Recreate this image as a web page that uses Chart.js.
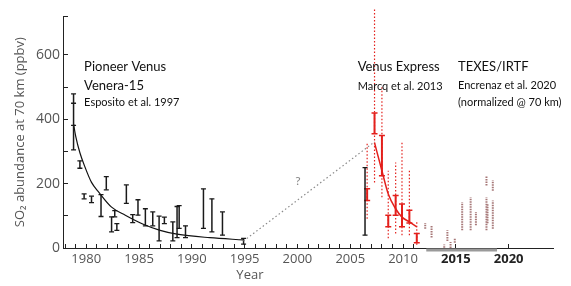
<!DOCTYPE html>
<html>
<head>
<meta charset="utf-8">
<script src="https://cdn.jsdelivr.net/npm/chart.js@4"></script>
<style>
  html, body { margin: 0; padding: 0; background: #fff; }
  #caixa { width: 571px; height: 286px; }
</style>
</head>
<body>
<div id="caixa"><canvas id="grafico"></canvas></div>
<script>
// Pioneer Venus / Venera-15 (Esposito et al. 1997)
const pvAnos = [1978.8, 1979.4, 1979.8, 1980.5, 1981.4, 1981.9, 1982.4, 1982.7, 1982.9, 1983.8, 1984.4, 1984.9,
                1985.6, 1986.3, 1986.9, 1987.4, 1988.2, 1988.6, 1988.8, 1989.4, 1991.1, 1991.9, 1992.9, 1994.9];
const pvMin = [305, 248, 153, 141, 98, 181, 50, 97, 55, 139, 79, 102, 69, 69, 22, 76, 22, 32, 61, 32, 61, 50, 40, 12];
const pvMax = [479, 271, 168, 161, 166, 222, 97, 116, 76, 196, 104, 150, 122, 112, 99, 96, 81, 129, 132, 69, 184, 153, 112, 30];
// pontas extra do primeiro ponto
const pvExtraAnos = [1978.8, 1978.8];
const pvExtra = [381, 450];

// curva ajustada (preta)
const pvCurvaAnos = [1978.8, 1979.0, 1979.4, 1979.9, 1980.5, 1981.2, 1982.4, 1983.7, 1985.4, 1987.0, 1988.6, 1991.7, 1994.9];
const pvCurva = [385, 348, 296, 250, 204, 173, 127, 102, 74, 55, 43, 32, 25];

// barra preta isolada em 2006
const outroAnos = [2006.4];
const outroMin = [40];
const outroMax = [250];

// Venus Express (Marcq et al. 2013)
const vexAnos = [2006.6, 2007.3, 2008.0, 2008.6, 2009.3, 2009.9, 2010.6, 2011.3];
const vexMin = [148, 355, 225, 66, 102, 66, 78, 16];
const vexMax = [184, 420, 350, 102, 163, 137, 117, 45];
const vexPontMin = [91, 204, 158, 30, 45, 40, 40, 10];
const vexPontMax = [324, 745, 501, 240, 266, 327, 240, 86];
const vexCurvaAnos = [2007.3, 2008.0, 2008.6, 2009.3, 2009.9, 2010.6, 2011.3];
const vexCurva = [327, 240, 168, 122, 96, 81, 66];

// TEXES/IRTF (Encrenaz et al. 2020)
const texAnos = [2012.1, 2012.7, 2013.9, 2014.2, 2014.5, 2014.9, 2015.6, 2016.4, 2016.9, 2017.9, 2017.9, 2018.0, 2018.5, 2018.5];
const texMin = [60, 33, 1, 22, 0, 16, 55, 55, 71, 194, 55, 77, 178, 60];
const texMax = [78, 71, 11, 55, 19, 30, 142, 158, 112, 222, 158, 138, 211, 148];

// ligação pontilhada 1995 -> 2007
const ligacaoAnos = [1994.9, 2007.3];
const ligacao = [22, 330];

// faixa cinza do eixo TEXES
const faixaAnos = [2012.2, 2018.9];

// ticks
const ticksAnos = [];
for (let a = 1978; a <= 2011; a++) ticksAnos.push(a);
ticksAnos.push(2015, 2020);
const rotulosX = [1980, 1985, 1990, 1995, 2000, 2005, 2010, 2015, 2020];
const rotulosY = [0, 200, 400, 600];

function barras(anos, min, max) {
    const pts = [];
    anos.forEach((a, i) => {
        pts.push({ x: a, y: min[i] }, { x: a, y: max[i] }, { x: a, y: null });
    });
    return pts;
}
function pontas(anos, min, max) {
    const pts = [];
    anos.forEach((a, i) => {
        pts.push({ x: a, y: min[i] }, { x: a, y: max[i] });
    });
    return pts;
}
function serie(anos, valores) {
    return anos.map((a, i) => ({ x: a, y: valores[i] }));
}

const vermelho = '#e3201c';

// textos das fontes
const textos = [
    { t: 'Pioneer Venus', ano: 1979.8, v: 563, f: '13px Lato' },
    { t: 'Venera-15', ano: 1979.8, v: 505, f: '13px Lato' },
    { t: 'Esposito et al. 1997', ano: 1979.8, v: 452, f: '11px Lato' },
    { t: 'Venus Express', ano: 2005.7, v: 563, f: '13px Lato' },
    { t: 'Marcq et al. 2013', ano: 2005.7, v: 503, f: '11px Lato' },
    { t: 'TEXES/IRTF', ano: 2015.2, v: 563, f: '13px Lato' },
    { t: 'Encrenaz et al. 2020', ano: 2015.2, v: 505, f: '11px Lato' },
    { t: '(normalized @ 70 km)', ano: 2015.2, v: 452, f: '11px Lato' },
    { t: '?', ano: 1999.8, v: 209, f: '12px Lato', cor: '#888' },
    { t: 'Year', ano: 1995.5, v: -84, f: '13px "Open Sans"', cor: '#555', centro: true }
];

const pluginTextos = {
    id: 'textos',
    afterDatasetsDraw(chart) {
        const { ctx, scales: { x, y } } = chart;
        ctx.save();
        ctx.textBaseline = 'middle';
        textos.forEach(r => {
            ctx.font = r.f;
            ctx.fillStyle = r.cor || '#111';
            ctx.textAlign = r.centro ? 'center' : 'left';
            ctx.fillText(r.t, x.getPixelForValue(r.ano), y.getPixelForValue(r.v));
        });
        ctx.restore();
    }
};

const linhaBase = { pointRadius: 0, spanGaps: false, fill: false, tension: 0 };

const configuracao = {
    type: 'line',
    data: {
        datasets: [
            { ...linhaBase, data: [{ x: faixaAnos[0], y: -6 }, { x: faixaAnos[1], y: -6 }], borderColor: '#9a9a9a', borderWidth: 3, clip: false },
            { ...linhaBase, data: serie(ligacaoAnos, ligacao), borderColor: '#8a8a8a', borderWidth: 1.2, borderDash: [1.5, 2.5] },
            { ...linhaBase, data: barras(vexAnos, vexPontMin, vexPontMax), borderColor: vermelho, borderWidth: 1.2, borderDash: [1.5, 2], clip: false },
            { ...linhaBase, data: barras(texAnos, texMin, texMax), borderColor: 'rgba(150,95,95,0.85)', borderWidth: 2, borderDash: [1.5, 1] },
            { ...linhaBase, data: barras(pvAnos, pvMin, pvMax), borderColor: '#1a1a1a', borderWidth: 1.5 },
            { ...linhaBase, data: barras(outroAnos, outroMin, outroMax), borderColor: '#1a1a1a', borderWidth: 1.5 },
            { ...linhaBase, data: barras(vexAnos, vexMin, vexMax), borderColor: vermelho, borderWidth: 2 },
            { ...linhaBase, data: serie(pvCurvaAnos, pvCurva), borderColor: '#111', borderWidth: 1.2, cubicInterpolationMode: 'monotone' },
            { ...linhaBase, data: serie(vexCurvaAnos, vexCurva), borderColor: vermelho, borderWidth: 1.5, cubicInterpolationMode: 'monotone' },
            { type: 'scatter', data: pontas(pvAnos, pvMin, pvMax).concat(serie(pvExtraAnos, pvExtra)).concat(pontas(outroAnos, outroMin, outroMax)),
              pointStyle: 'line', pointRadius: 2.5, borderColor: '#1a1a1a', pointBorderWidth: 1.3, showLine: false },
            { type: 'scatter', data: pontas(vexAnos, vexMin, vexMax),
              pointStyle: 'line', pointRadius: 3, borderColor: vermelho, pointBorderWidth: 1.5, showLine: false }
        ]
    },
    options: {
        responsive: true,
        maintainAspectRatio: false,
        animation: false,
        layout: { padding: { top: 15, right: 18, left: 0, bottom: 0 } },
        plugins: { legend: { display: false }, tooltip: { enabled: false } },
        scales: {
            x: {
                type: 'linear',
                min: 1977.8,
                max: 2024.2,
                afterBuildTicks(scale) { scale.ticks = ticksAnos.map(v => ({ value: v })); },
                afterFit(scale) { scale.height = 38; },
                grid: { drawOnChartArea: false, drawTicks: true, tickLength: -4, color: '#222' },
                border: { display: true, color: '#222', width: 1 },
                ticks: {
                    autoSkip: false,
                    maxRotation: 0,
                    padding: 7,
                    color: c => (c.tick && c.tick.value >= 2015 ? '#222' : '#555'),
                    font: c => ({ family: '"Open Sans"', size: 13, weight: (c.tick && c.tick.value >= 2015) ? 'bold' : 'normal' }),
                    callback: v => (rotulosX.includes(v) ? String(v) : '')
                }
            },
            y: {
                min: 0,
                max: 720,
                afterFit(scale) { scale.width = 63; },
                grid: { drawOnChartArea: false, drawTicks: true, tickLength: -5, color: '#222' },
                border: { display: true, color: '#222', width: 1 },
                title: { display: true, text: 'SO₂ abundance at 70 km (ppbv)', color: '#555',
                         font: { family: '"Open Sans"', size: 13 }, padding: { top: 12, bottom: 0 } },
                ticks: {
                    stepSize: 50,
                    padding: 8,
                    color: '#555',
                    font: { family: '"Open Sans"', size: 14 },
                    callback: v => (rotulosY.includes(v) ? String(v) : '')
                }
            }
        }
    },
    plugins: [pluginTextos]
};

try {
    new Chart(document.getElementById('grafico'), configuracao);
} catch (e) {
    console.log(e);
}
</script>
</body>
</html>
